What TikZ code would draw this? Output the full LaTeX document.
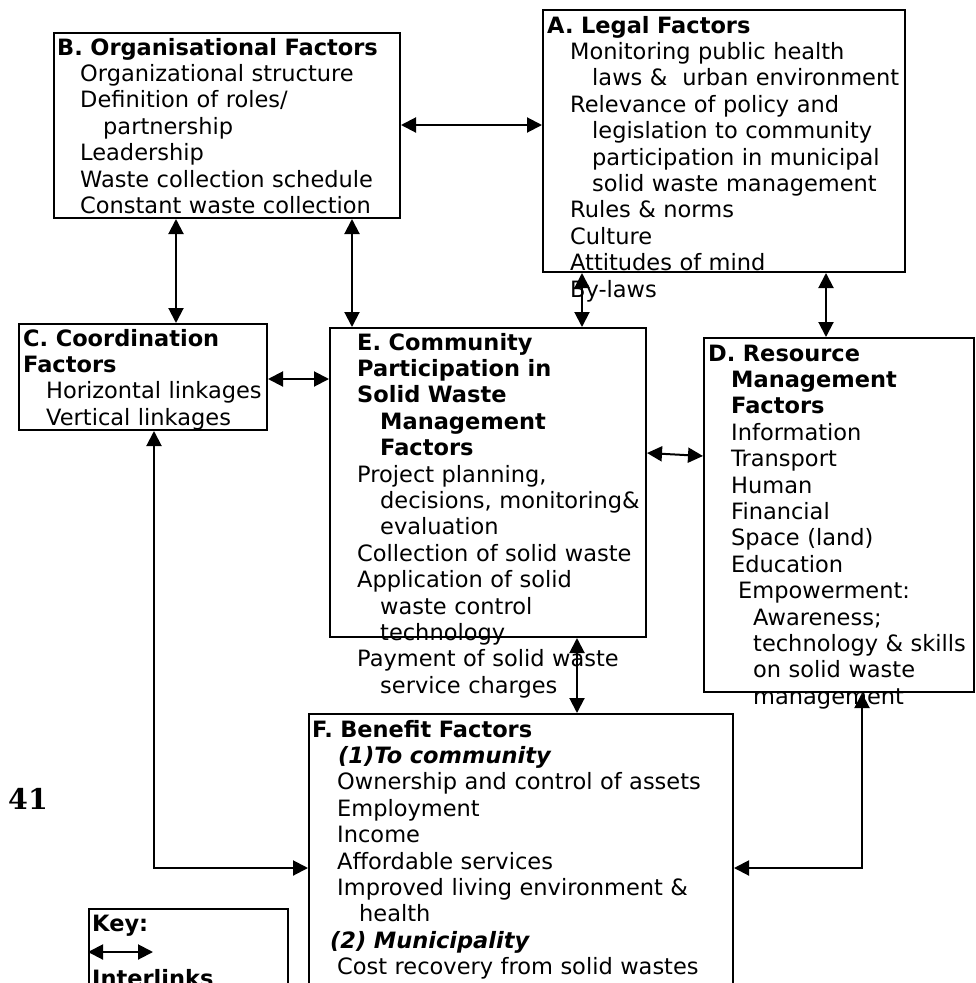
\documentclass[tikz,border=0pt]{standalone}
\usepackage{fontspec}
\setmainfont{DejaVu Sans}
\newfontfamily\numfont{DejaVu Serif}
\usetikzlibrary{arrows.meta}
\begin{document}
\begin{tikzpicture}[x=1pt,y=-1pt,
  box/.style={draw, line width=2pt, anchor=north west, inner sep=0pt},
  txt/.style={anchor=base west, inner sep=0pt, text width=440pt, align=left, font=\fontsize{22.5}{26.4}\selectfont},
  link/.style={line width=2pt, {Triangle[length=15pt,width=15pt]}-{Triangle[length=15pt,width=15pt]}}]
\useasboundingbox (0,0) rectangle (975,983);
\clip (0,0) rectangle (975,983);
% boxes
\node[box, minimum width=362pt, minimum height=262pt] (A) at (542,9) {};
\node[box, minimum width=346pt, minimum height=185pt] (B) at (53,32) {};
\node[box, minimum width=248pt, minimum height=106pt] (C) at (18,323) {};
\node[box, minimum width=316pt, minimum height=309pt] (E) at (329,327) {};
\node[box, minimum width=270pt, minimum height=354pt] (D) at (703,337) {};
\node[box, minimum width=424pt, minimum height=300pt] (F) at (308,713) {};
\node[box, minimum width=199pt, minimum height=100pt] (K) at (88,908) {};
% texts
\node[txt] (tA) at (547,33) {\textbf{A. Legal Factors}\\
\hspace*{23pt}Monitoring public health\\
\hspace*{45pt}laws \&\ \ urban environment\\
\hspace*{23pt}Relevance of policy and\\
\hspace*{45pt}legislation to community\\
\hspace*{45pt}participation in municipal\\
\hspace*{45pt}solid waste management\\
\hspace*{23pt}Rules \& norms\\
\hspace*{23pt}Culture\\
\hspace*{23pt}Attitudes of mind\\
\hspace*{23pt}By-laws};
\node[txt] (tB) at (57,55) {\textbf{B. Organisational Factors}\\
\hspace*{23pt}Organizational structure\\
\hspace*{23pt}Definition of roles/\\
\hspace*{46pt}partnership\\
\hspace*{23pt}Leadership\\
\hspace*{23pt}Waste collection schedule\\
\hspace*{23pt}Constant waste collection};
\node[txt] (tC) at (23,346) {\textbf{C. Coordination}\\
\textbf{Factors}\\
\hspace*{23pt}Horizontal linkages\\
\hspace*{23pt}Vertical linkages};
\node[txt] (tE) at (357,350) {\textbf{E. Community}\\
\textbf{Participation in}\\
\textbf{Solid Waste}\\
\hspace*{23pt}\textbf{Management}\\
\hspace*{23pt}\textbf{Factors}\\
Project planning,\\
\hspace*{23pt}decisions, monitoring\&\\
\hspace*{23pt}evaluation\\
Collection of solid waste\\
Application of solid\\
\hspace*{23pt}waste control\\
\hspace*{23pt}technology\\
Payment of solid waste\\
\hspace*{23pt}service charges};
\node[txt] (tD) at (708,361) {\textbf{D. Resource}\\
\hspace*{23pt}\textbf{Management}\\
\hspace*{23pt}\textbf{Factors}\\
\hspace*{23pt}Information\\
\hspace*{23pt}Transport\\
\hspace*{23pt}Human\\
\hspace*{23pt}Financial\\
\hspace*{23pt}Space (land)\\
\hspace*{23pt}Education\\
\hspace*{30pt}Empowerment:\\
\hspace*{45pt}Awareness;\\
\hspace*{45pt}technology \& skills\\
\hspace*{45pt}on solid waste\\
\hspace*{45pt}management};
\node[txt] (tF) at (312,737) {\textbf{F. Benefit Factors}\\
\hspace*{26pt}\textbf{\textit{(1)To community}}\\
\hspace*{25pt}Ownership and control of assets\\
\hspace*{25pt}Employment\\
\hspace*{25pt}Income\\
\hspace*{25pt}Affordable services\\
\hspace*{25pt}Improved living environment \&\\
\hspace*{47pt}health\\
\hspace*{18pt}\textbf{\textit{(2) Municipality}}\\
\hspace*{25pt}Cost recovery from solid wastes};
\node[txt] (tK) at (92,931) {\textbf{Key:}};
\node[txt] (tK2) at (92,986) {\textbf{Interlinks}};
\node[anchor=base west, inner sep=0pt, font=\numfont\bfseries\fontsize{28.5}{31}\selectfont] (num) at (8,809) {41};
% connectors
\draw[link] (B.east |- 0,125) -- (A.west |- 0,125);
\draw[link] (B.south -| 176,0) -- (C.north -| 176,0);
\draw[link] (B.south -| 352,0) -- (E.north -| 352,0);
\draw[link] (A.south -| 582,0) -- (E.north -| 582,0);
\draw[link] (A.south -| 826,0) -- (D.north -| 826,0);
\draw[link] (C.east |- 0,379) -- (E.west |- 0,379);
\draw[link] (E.east |- 0,453) -- (D.west |- 0,456);
\draw[link] (E.south -| 577,0) -- (F.north -| 577,0);
\draw[link] (C.south -| 154,0) |- (F.west |- 0,868);
\draw[link] (D.south -| 862,0) |- (F.east |- 0,868);
\coordinate (kend) at (153,952);
\draw[link] (K.west |- 0,952) -- (kend);
\end{tikzpicture}
\end{document}
